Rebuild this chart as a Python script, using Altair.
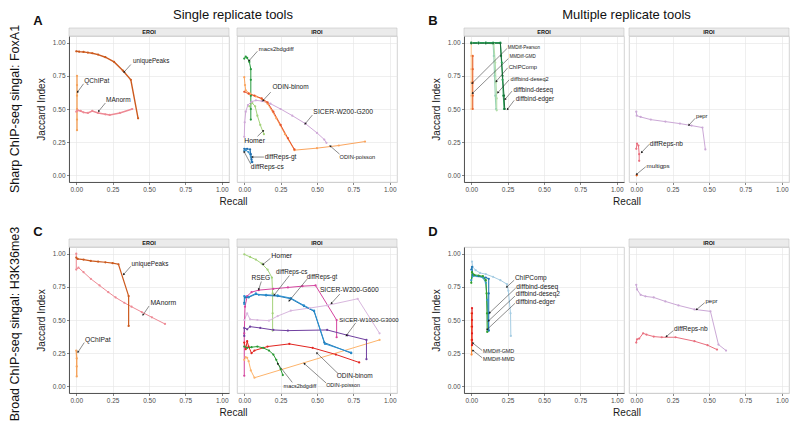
import math
import altair as alt
import pandas as pd

# ------------------------------------------------------------------ data
# Panel A  (Sharp signal, single replicate) -- EROI
A_E_uniquePeaks = [(0.0, 0.935), (0.02, 0.932), (0.05, 0.93), (0.08, 0.925), (0.11, 0.92), (0.15, 0.91),
                   (0.2, 0.89), (0.26, 0.855), (0.32, 0.79), (0.375, 0.72), (0.425, 0.43)]
A_E_QChIPat = [(0.005, 0.75), (0.005, 0.68), (0.005, 0.6), (0.005, 0.5), (0.005, 0.42), (0.005, 0.34)]
A_E_MAnorm = [(0.0, 0.48), (0.01, 0.49), (0.03, 0.485), (0.05, 0.475), (0.08, 0.47), (0.11, 0.485),
              (0.15, 0.47), (0.2, 0.46), (0.23, 0.455), (0.3, 0.47), (0.385, 0.5)]
# Panel A -- IROI
A_I_macs2bdgdiff = [(0.0, 0.88), (0.01, 0.895), (0.02, 0.885), (0.035, 0.855), (0.045, 0.8), (0.045, 0.72),
                    (0.045, 0.6), (0.045, 0.5), (0.045, 0.42)]
A_I_Homer = [(0.035, 0.52), (0.055, 0.545), (0.075, 0.52), (0.09, 0.45), (0.11, 0.38), (0.135, 0.31)]
A_I_SICER_W200_G200 = [(0.0, 0.29), (0.003, 0.4), (0.01, 0.48), (0.025, 0.53), (0.05, 0.555), (0.08, 0.565),
                       (0.12, 0.56), (0.18, 0.54), (0.25, 0.5), (0.33, 0.45), (0.42, 0.39), (0.5, 0.32),
                       (0.55, 0.27), (0.565, 0.245)]
A_I_ODIN_binom = [(0.0, 0.63), (0.03, 0.615), (0.07, 0.6), (0.12, 0.58), (0.16, 0.55), (0.2, 0.48),
                  (0.25, 0.38), (0.3, 0.28), (0.345, 0.195)]
A_I_ODIN_poisson = [(0.0, 0.74), (0.005, 0.68), (0.01, 0.64), (0.04, 0.615), (0.08, 0.595), (0.12, 0.575),
                    (0.16, 0.54), (0.22, 0.43), (0.28, 0.31), (0.345, 0.19), (0.5, 0.205), (0.65, 0.225),
                    (0.83, 0.255)]
A_I_diffReps_gt = [(0.0, 0.2), (0.02, 0.2), (0.04, 0.195), (0.045, 0.16), (0.05, 0.12), (0.055, 0.1)]
A_I_diffReps_cs = [(0.0, 0.185), (0.01, 0.19), (0.03, 0.175), (0.045, 0.14), (0.05, 0.1)]

# Panel B  (Sharp signal, multiple replicates) -- EROI
B_E_MMDiff_Pearson = [(0.0, 1.0), (0.0, 0.9), (0.0, 0.8), (0.0, 0.7), (0.0, 0.6), (0.0, 0.5)]
B_E_MMDiff_GMD = [(0.01, 0.9), (0.01, 0.8), (0.01, 0.7), (0.01, 0.6), (0.01, 0.5)]
B_E_ChIPComp = [(0.0, 1.0), (0.05, 1.0), (0.1, 1.0), (0.15, 0.995), (0.155, 0.9), (0.16, 0.75),
                (0.165, 0.6), (0.17, 0.5)]
B_E_diffbind_deseq2 = [(0.0, 0.995), (0.05, 0.995), (0.1, 0.995), (0.155, 0.99), (0.165, 0.85), (0.17, 0.7),
                       (0.175, 0.58), (0.175, 0.49)]
B_E_diffbind_deseq = [(0.0, 1.0), (0.05, 1.0), (0.1, 1.0), (0.15, 1.0), (0.2, 1.0), (0.21, 0.85),
                      (0.215, 0.72), (0.22, 0.6), (0.225, 0.5)]
B_E_diffbind_edger = [(0.0, 0.995), (0.05, 0.995), (0.1, 0.995), (0.15, 0.995), (0.2, 0.995), (0.205, 0.9),
                      (0.215, 0.75), (0.225, 0.6), (0.23, 0.5)]
# Panel B -- IROI
B_I_pepr = [(0.0, 0.48), (0.003, 0.45), (0.03, 0.44), (0.1, 0.42), (0.2, 0.405), (0.3, 0.39), (0.38, 0.375),
            (0.455, 0.36), (0.475, 0.195)]
B_I_diffReps_nb = [(0.0, 0.2), (0.005, 0.24), (0.015, 0.225), (0.02, 0.16), (0.02, 0.11)]
B_I_multigps = [(0.003, 0.0)]

# Panel C  (Broad signal, single replicate) -- EROI
C_E_uniquePeaks = [(0.0, 0.97), (0.01, 0.96), (0.05, 0.955), (0.1, 0.945), (0.15, 0.94), (0.2, 0.935),
                   (0.25, 0.928), (0.29, 0.92), (0.36, 0.68), (0.36, 0.455)]
C_E_MAnorm = [(0.0, 1.0), (0.0, 0.88), (0.015, 0.895), (0.05, 0.86), (0.1, 0.81), (0.16, 0.76), (0.22, 0.71),
              (0.27, 0.67), (0.33, 0.63), (0.38, 0.6), (0.45, 0.56), (0.52, 0.52), (0.61, 0.47)]
C_E_QChIPat = [(0.0, 0.27), (0.003, 0.21), (0.003, 0.15), (0.003, 0.075)]
# Panel C -- IROI
C_I_Homer = [(0.0, 0.995), (0.04, 0.975), (0.08, 0.955), (0.12, 0.925), (0.16, 0.88), (0.19, 0.82),
             (0.195, 0.7), (0.195, 0.55), (0.195, 0.42)]
C_I_RSEG = [(0.0, 0.08), (0.0, 0.4), (0.005, 0.6), (0.02, 0.68), (0.05, 0.71), (0.1, 0.725), (0.2, 0.735),
            (0.3, 0.745), (0.4, 0.755), (0.49, 0.76), (0.635, 0.5), (0.635, 0.37)]
C_I_diffReps_cs = [(0.0, 0.62), (0.0, 0.68), (0.03, 0.675), (0.08, 0.7), (0.1, 0.69), (0.15, 0.69),
                   (0.23, 0.685), (0.32, 0.665), (0.41, 0.61), (0.48, 0.57), (0.555, 0.32), (0.735, 0.255)]
C_I_diffReps_gt = [(0.0, 0.63), (0.005, 0.67), (0.03, 0.67), (0.08, 0.695), (0.15, 0.685), (0.23, 0.68),
                   (0.32, 0.66), (0.41, 0.605), (0.48, 0.565), (0.55, 0.33), (0.735, 0.25)]
C_I_SICER_W200_G600 = [(0.0, 0.5), (0.02, 0.55), (0.04, 0.505), (0.09, 0.5), (0.17, 0.495), (0.23, 0.53),
                       (0.32, 0.57), (0.45, 0.59), (0.57, 0.61), (0.78, 0.66), (0.93, 0.4)]
C_I_SICER_W1000_G3000 = [(0.0, 0.38), (0.0, 0.44), (0.02, 0.43), (0.04, 0.45), (0.11, 0.44), (0.2, 0.425),
                         (0.3, 0.42), (0.57, 0.425), (0.71, 0.385), (0.84, 0.35), (0.84, 0.205)]
C_I_ODIN_binom = [(0.0, 0.33), (0.01, 0.28), (0.02, 0.34), (0.03, 0.3), (0.05, 0.25), (0.07, 0.27),
                  (0.16, 0.3), (0.31, 0.32), (0.47, 0.29), (0.63, 0.24), (0.79, 0.18)]
C_I_macs2bdgdiff = [(0.0, 0.3), (0.02, 0.29), (0.05, 0.295), (0.09, 0.3), (0.13, 0.29), (0.17, 0.27),
                    (0.2, 0.24), (0.22, 0.2), (0.25, 0.13), (0.265, 0.085)]
C_I_ODIN_poisson = [(0.0, 0.2), (0.01, 0.22), (0.02, 0.215), (0.03, 0.19), (0.045, 0.12), (0.07, 0.065),
                    (0.93, 0.35)]

# Panel D  (Broad signal, multiple replicates) -- EROI
D_E_ChIPComp = [(0.005, 0.94), (0.01, 0.9), (0.03, 0.875), (0.06, 0.855), (0.1, 0.845), (0.15, 0.825),
                (0.2, 0.8), (0.245, 0.77), (0.255, 0.72), (0.27, 0.55), (0.272, 0.38)]
D_E_diffbind_deseq = [(0.0, 0.88), (0.005, 0.9), (0.01, 0.84), (0.05, 0.83), (0.1, 0.82), (0.12, 0.81),
                      (0.12, 0.7), (0.12, 0.55), (0.12, 0.42)]
D_E_diffbind_deseq2 = [(0.0, 0.78), (0.005, 0.86), (0.02, 0.84), (0.05, 0.835), (0.08, 0.83), (0.1, 0.8),
                       (0.105, 0.7), (0.108, 0.55), (0.11, 0.41)]
D_E_diffbind_edger = [(0.0, 0.8), (0.01, 0.83), (0.04, 0.83), (0.08, 0.82), (0.1, 0.78), (0.11, 0.65),
                      (0.115, 0.5), (0.12, 0.42)]
D_E_MMDiff_GMD = [(0.005, 0.59), (0.005, 0.55), (0.005, 0.5), (0.005, 0.45), (0.005, 0.4), (0.005, 0.35),
                  (0.005, 0.31)]
D_E_MMDiff_MMD = [(0.002, 0.55), (0.002, 0.45), (0.002, 0.35), (0.002, 0.24)]
# Panel D -- IROI
D_I_pepr = [(0.0, 0.765), (0.005, 0.73), (0.03, 0.69), (0.063, 0.678), (0.12, 0.67), (0.2, 0.64),
            (0.29, 0.61), (0.4, 0.58), (0.51, 0.565), (0.565, 0.315), (0.617, 0.27)]
D_I_diffReps_nb = [(0.0, 0.33), (0.005, 0.355), (0.02, 0.36), (0.047, 0.4), (0.07, 0.39), (0.12, 0.375),
                   (0.175, 0.37), (0.27, 0.37), (0.4, 0.34), (0.49, 0.31), (0.555, 0.277)]

# annotation labels: (text, text x, text y, arrow start x, y, arrow end x, y, font size)
A_E_labels = [("uniquePeaks", 0.39, 0.86, 0.375, 0.835, 0.33, 0.78, 6.3),
              ("QChIPat", 0.055, 0.71, 0.05, 0.69, 0.01, 0.63, 6.5),
              ("MAnorm", 0.205, 0.565, 0.2, 0.545, 0.155, 0.485, 6.5)]
A_I_labels = [("macs2bdgdiff", 0.1, 0.953, 0.09, 0.935, 0.034, 0.865, 5.9),
              ("ODIN-binom", 0.194, 0.665, 0.182, 0.627, 0.13, 0.565, 6.5),
              ("SICER-W200-G200", 0.475, 0.48, 0.468, 0.454, 0.42, 0.39, 6.8),
              ("ODIN-poisson", 0.655, 0.14, 0.655, 0.16, 0.592, 0.22, 5.7),
              ("Homer", 0.0, 0.257, 0.091, 0.294, 0.13, 0.335, 6.9),
              ("diffReps-gt", 0.14, 0.138, 0.135, 0.138, 0.057, 0.138, 6.6),
              ("diffReps-cs", 0.045, 0.06, 0.045, 0.084, 0.0, 0.176, 6.6)]
B_E_labels = [("MMDiff-Pearson", 0.25, 0.957, 0.245, 0.955, 0.007, 0.695, 4.5),
              ("MMDiff-GMD", 0.263, 0.89, 0.255, 0.88, 0.01, 0.62, 4.5),
              ("ChIPComp", 0.257, 0.815, 0.25, 0.81, 0.173, 0.71, 5.8),
              ("diffbind-deseq2", 0.27, 0.725, 0.26, 0.72, 0.184, 0.625, 5.6),
              ("diffbind-deseq", 0.29, 0.64, 0.28, 0.635, 0.234, 0.575, 6.3),
              ("diffbind-edger", 0.306, 0.575, 0.295, 0.565, 0.25, 0.5, 6.3)]
B_I_labels = [("pepr", 0.41, 0.445, 0.405, 0.43, 0.363, 0.38, 5.8),
              ("diffReps-nb", 0.093, 0.24, 0.09, 0.235, 0.038, 0.175, 6.5),
              ("multigps", 0.071, 0.07, 0.065, 0.065, 0.004, 0.01, 6.2)]
C_E_labels = [("uniquePeaks", 0.38, 0.92, 0.375, 0.905, 0.327, 0.845, 6.4),
              ("MAnorm", 0.51, 0.627, 0.5, 0.605, 0.46, 0.54, 6.8),
              ("QChIPat", 0.06, 0.35, 0.055, 0.33, 0.013, 0.26, 6.7)]
C_I_labels = [("Homer", 0.185, 0.98, 0.18, 0.965, 0.13, 0.92, 7.0),
              ("RSEG", 0.05, 0.82, 0.117, 0.79, 0.1, 0.733, 6.6),
              ("diffReps-cs", 0.218, 0.86, 0.31, 0.835, 0.207, 0.69, 6.3),
              ("diffReps-gt", 0.43, 0.825, 0.432, 0.808, 0.31, 0.646, 6.3),
              ("SICER-W200-G600", 0.52, 0.726, 0.657, 0.696, 0.6, 0.627, 6.7),
              ("SICER-W1000-G3000", 0.653, 0.497, 0.766, 0.478, 0.703, 0.385, 6.0),
              ("ODIN-binom", 0.635, 0.08, 0.647, 0.094, 0.5, 0.25, 6.5),
              ("ODIN-poisson", 0.563, 0.012, 0.563, 0.025, 0.414, 0.17, 5.4),
              ("macs2bdgdiff", 0.27, 0.005, 0.33, 0.03, 0.23, 0.17, 5.5)]
D_E_labels = [("ChIPComp", 0.3, 0.817, 0.295, 0.8, 0.245, 0.75, 6.5),
              ("diffbind-deseq", 0.31, 0.752, 0.305, 0.74, 0.127, 0.555, 6.7),
              ("diffbind-deseq2", 0.305, 0.693, 0.3, 0.68, 0.12, 0.495, 6.5),
              ("diffbind-edger", 0.305, 0.636, 0.3, 0.625, 0.11, 0.43, 6.5),
              ("MMDiff-GMD", 0.08, 0.265, 0.075, 0.27, 0.012, 0.325, 5.4),
              ("MMDiff-MMD", 0.08, 0.208, 0.075, 0.215, 0.012, 0.27, 5.4)]
D_I_labels = [("pepr", 0.476, 0.644, 0.47, 0.63, 0.416, 0.58, 6.0),
              ("diffReps-nb", 0.26, 0.43, 0.255, 0.42, 0.208, 0.377, 6.6)]

# ------------------------------------------------------------------ styles
A_E_style = [("uniquePeaks", "#cc5a1e", 1.4), ("QChIPat", "#f4a35c", 1.4), ("MAnorm", "#ee8a95", 1.0)]
A_I_style = [("Homer", "#a3d27a", 1.0), ("SICER-W200-G200", "#cfa8d8", 1.0), ("macs2bdgdiff", "#259a3c", 1.3),
             ("ODIN-poisson", "#fba55e", 1.3), ("ODIN-binom", "#e8542c", 1.5),
             ("diffReps-cs", "#3a93cc", 1.2), ("diffReps-gt", "#1f6fb0", 1.4)]
B_E_style = [("MMDiff-Pearson", "#fdcf9e", 1.2), ("MMDiff-GMD", "#e8672f", 1.0), ("ChIPComp", "#97d2b5", 1.2),
             ("diffbind-deseq2", "#b3deaa", 1.2), ("diffbind-deseq", "#2ea25a", 1.3),
             ("diffbind-edger", "#17713a", 1.4)]
B_I_style = [("pepr", "#cba8d6", 1.0), ("diffReps-nb", "#e9707f", 1.0), ("multigps", "#e6550d", 1.0)]
C_E_style = [("MAnorm", "#ee8a95", 1.0), ("uniquePeaks", "#cc5a1e", 1.4), ("QChIPat", "#f4a35c", 1.4)]
C_I_style = [("Homer", "#a3d27a", 1.0), ("SICER-W200-G600", "#d8b7de", 1.0), ("ODIN-poisson", "#fdb46c", 1.0),
             ("RSEG", "#d4449e", 1.3), ("SICER-W1000-G3000", "#7040a0", 1.2), ("ODIN-binom", "#e2241f", 1.2),
             ("macs2bdgdiff", "#2a9a34", 1.2), ("diffReps-gt", "#1f78b4", 1.3), ("diffReps-cs", "#2a8fd0", 1.8)]
D_E_style = [("ChIPComp", "#a6cde3", 1.0), ("diffbind-edger", "#3b9ec5", 1.2), ("diffbind-deseq", "#1f78b4", 1.3),
             ("diffbind-deseq2", "#33a02c", 1.4), ("MMDiff-MMD", "#fd8d3c", 1.2), ("MMDiff-GMD", "#e31a1c", 1.2)]
D_I_style = [("pepr", "#cba8d6", 1.0), ("diffReps-nb", "#e9707f", 1.0)]

FONT = "Liberation Sans"
W = 160
H = 146
SH = 8
DOM = [-0.05, 1.05]
TICKS = [0, 0.25, 0.5, 0.75, 1.0]
GAP_S = 8
GAP_M = 5
GAP_G = 67
ROW_GAP = 65


def series_df(series):
    rows = []
    for tool, pts in series:
        for i, (x, y) in enumerate(pts):
            rows.append({"tool": tool, "x": x, "y": y, "i": i})
    return pd.DataFrame(rows)


def labels_df(entries):
    rows = []
    for lab, tx, ty, sx, sy, ex, ey, fs in entries:
        dx = (ex - sx) * W / 1.1
        dy = -(ey - sy) * H / 1.1
        ang = math.degrees(math.atan2(dx, -dy)) % 360
        rows.append(dict(label=lab, tx=tx, ty=ty, sx=sx, sy=sy, ex=ex, ey=ey, fs=fs, ang=ang))
    return pd.DataFrame(rows)


def make_axes(kind, recall_x):
    sc = alt.Scale(domain=DOM, nice=False, zero=False)
    if kind == "E":
        xa = alt.Axis(values=TICKS, format=".2f", title="Recall", titleX=recall_x, titleY=19,
                      titleBaseline="middle", titleAlign="center", domainColor="#333333", grid=True,
                      labelFlush=False)
        ya = alt.Axis(values=TICKS, format=".2f", title="Jaccard Index", titlePadding=6,
                      domainColor="#333333", grid=True)
    else:
        xa = alt.Axis(values=TICKS, format=".2f", title=None, domainColor="#cccccc", grid=True,
                      labelFlush=False)
        ya = alt.Axis(values=TICKS, labels=False, ticks=False, domain=False, title=None, grid=True)

    def X(f):
        return alt.X(f, scale=sc, axis=xa)

    def Y(f):
        return alt.Y(f, scale=sc, axis=ya)
    return X, Y


def deco(text, x, y, size, weight="normal", angle=0):
    return alt.Chart(pd.DataFrame({"t": [text]})).mark_text(
        font=FONT, fontSize=size, fontWeight=weight, angle=angle, color="#111111",
        align="center", baseline="middle").encode(x=alt.value(x), y=alt.value(y), text="t:N")


def strip_layers(label):
    rect = alt.Chart(pd.DataFrame({"t": [label]})).mark_rect(
        fill="#ebebeb", stroke="#c4c4c4", strokeWidth=0.6).encode(
        x=alt.value(0), x2=alt.value(W), y=alt.value(-SH), y2=alt.value(0))
    return [rect, deco(label, W / 2, -SH / 2, 5.5, "bold")]


def panel(series, style, labels, kind, strip=None, recall_x=0, extras=()):
    X, Y = make_axes(kind, recall_x)
    df = series_df(series)
    tools = [s[0] for s in style]
    color = alt.Color("tool:N", scale=alt.Scale(domain=tools, range=[s[1] for s in style]), legend=None)
    sw = alt.StrokeWidth("tool:N", scale=alt.Scale(domain=tools, range=[s[2] for s in style]), legend=None)
    lines = alt.Chart(df).mark_line().encode(x=X("x:Q"), y=Y("y:Q"), color=color, strokeWidth=sw,
                                             order=alt.Order("i:Q"))
    pts = alt.Chart(df).mark_circle(size=5, opacity=1).encode(x=X("x:Q"), y=Y("y:Q"), color=color)
    ldf = labels_df(labels)
    rules = alt.Chart(ldf).mark_rule(color="#1a1a1a", strokeWidth=0.5).encode(
        x=X("sx:Q"), y=Y("sy:Q"), x2="ex:Q", y2="ey:Q")
    heads = alt.Chart(ldf).mark_point(shape="triangle", filled=True, size=6, color="#1a1a1a", opacity=1).encode(
        x=X("ex:Q"), y=Y("ey:Q"), angle=alt.Angle("ang:Q", scale=None))
    texts = alt.Chart(ldf).mark_text(align="left", baseline="middle", color="#1a1a1a", font=FONT).encode(
        x=X("tx:Q"), y=Y("ty:Q"), text="label:N", size=alt.Size("fs:Q", scale=None))
    layers = [lines, pts, rules, heads, texts]
    if strip:
        layers += strip_layers(strip)
    layers += list(extras)
    return alt.layer(*layers).properties(width=W, height=H)


def spacer(w):
    return alt.Chart(pd.DataFrame({"t": [""]})).mark_text().encode(text="t:N").properties(
        width=w, height=H, view=alt.ViewBackground(fillOpacity=0, strokeOpacity=0))


pA_E = panel([("uniquePeaks", A_E_uniquePeaks), ("QChIPat", A_E_QChIPat), ("MAnorm", A_E_MAnorm)],
             A_E_style, A_E_labels, "E", strip="EROI", recall_x=W + GAP_S / 2,
             extras=[deco("A", -31, -SH - 7, 13, "bold"),
                     deco("Single replicate tools", W + GAP_S / 2, -SH - 13, 13),
                     deco("Sharp ChIP-seq singal: FoxA1", -54, H / 2, 12.5, angle=270)])
pA_I = panel([("macs2bdgdiff", A_I_macs2bdgdiff), ("Homer", A_I_Homer),
              ("SICER-W200-G200", A_I_SICER_W200_G200), ("ODIN-poisson", A_I_ODIN_poisson),
              ("ODIN-binom", A_I_ODIN_binom), ("diffReps-cs", A_I_diffReps_cs),
              ("diffReps-gt", A_I_diffReps_gt)], A_I_style, A_I_labels, "I", strip="IROI")
pB_E = panel([("MMDiff-Pearson", B_E_MMDiff_Pearson), ("MMDiff-GMD", B_E_MMDiff_GMD),
              ("ChIPComp", B_E_ChIPComp), ("diffbind-deseq2", B_E_diffbind_deseq2),
              ("diffbind-deseq", B_E_diffbind_deseq), ("diffbind-edger", B_E_diffbind_edger)],
             B_E_style, B_E_labels, "E", strip="EROI", recall_x=W + GAP_M / 2,
             extras=[deco("B", -31, -SH - 7, 13, "bold"),
                     deco("Multiple replicate tools", W + GAP_M / 2, -SH - 13, 13)])
pB_I = panel([("pepr", B_I_pepr), ("diffReps-nb", B_I_diffReps_nb), ("multigps", B_I_multigps)],
             B_I_style, B_I_labels, "I", strip="IROI")
pC_E = panel([("MAnorm", C_E_MAnorm), ("uniquePeaks", C_E_uniquePeaks), ("QChIPat", C_E_QChIPat)],
             C_E_style, C_E_labels, "E", strip="EROI", recall_x=W + GAP_S / 2,
             extras=[deco("C", -31, -SH - 7, 13, "bold"),
                     deco("Broad ChIP-seq singal: H3K36me3", -54, H / 2 + 4, 12.5, angle=270)])
pC_I = panel([("Homer", C_I_Homer), ("SICER-W200-G600", C_I_SICER_W200_G600), ("ODIN-poisson", C_I_ODIN_poisson),
              ("RSEG", C_I_RSEG), ("SICER-W1000-G3000", C_I_SICER_W1000_G3000), ("ODIN-binom", C_I_ODIN_binom),
              ("macs2bdgdiff", C_I_macs2bdgdiff), ("diffReps-gt", C_I_diffReps_gt),
              ("diffReps-cs", C_I_diffReps_cs)], C_I_style, C_I_labels, "I", strip="IROI")
pD_E = panel([("ChIPComp", D_E_ChIPComp), ("diffbind-edger", D_E_diffbind_edger),
              ("diffbind-deseq", D_E_diffbind_deseq), ("diffbind-deseq2", D_E_diffbind_deseq2),
              ("MMDiff-MMD", D_E_MMDiff_MMD), ("MMDiff-GMD", D_E_MMDiff_GMD)],
             D_E_style, D_E_labels, "E", recall_x=W + GAP_M / 2,
             extras=[deco("D", -31, -SH - 7, 13, "bold")])
pD_I = panel([("pepr", D_I_pepr), ("diffReps-nb", D_I_diffReps_nb)], D_I_style, D_I_labels, "I", strip="IROI")

cells = [pA_E, spacer(GAP_S), pA_I, spacer(GAP_G), pB_E, spacer(GAP_M), pB_I,
         pC_E, spacer(GAP_S), pC_I, spacer(GAP_G), pD_E, spacer(GAP_M), pD_I]

chart = alt.concat(*cells, columns=7, spacing={"row": ROW_GAP, "column": 0},
                   bounds="flush", align="each").resolve_scale(
    color="independent", strokeWidth="independent", x="independent", y="independent"
).properties(
    padding=0, background="white"
).configure(font=FONT).configure_view(
    stroke="#c8c8c8", strokeWidth=0.8
).configure_axis(
    labelFont=FONT, labelFontSize=6.5, labelColor="#4d4d4d", labelPadding=1.5,
    tickColor="#333333", tickSize=2.5, tickWidth=0.6,
    gridColor="#e4e4e4", gridWidth=0.6, domainWidth=0.8,
    titleFont=FONT, titleFontSize=10, titleFontWeight="normal", titleColor="#1a1a1a",
)

chart.save("out.html", embed_options={"renderer": "svg", "actions": False})
